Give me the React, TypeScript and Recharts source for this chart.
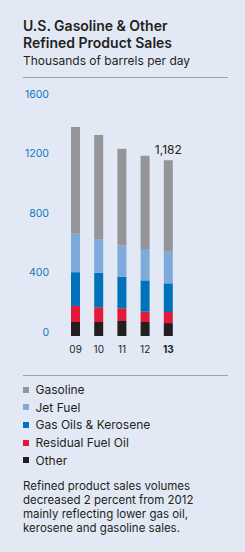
import React from 'react';
import { BarChart, Bar, XAxis, YAxis, LabelList } from 'recharts';

const years = ['09', '10', '11', '12', '13'];
const gasoline = [718, 700, 650, 626, 615];
const jetFuel = [258, 225, 209, 211, 213];
const gasOils = [227, 233, 213, 211, 193];
const residual = [108, 99, 85, 69, 74];
const other = [94, 94, 101, 94, 87];
const yTicks = [0, 400, 800, 1200, 1600];

const series = [
  { key: 'other', name: 'Other', color: '#231f20', values: other },
  { key: 'residual', name: 'Residual Fuel Oil', color: '#e31937', values: residual },
  { key: 'gasOils', name: 'Gas Oils & Kerosene', color: '#0072bc', values: gasOils },
  { key: 'jetFuel', name: 'Jet Fuel', color: '#7eaadb', values: jetFuel },
  { key: 'gasoline', name: 'Gasoline', color: '#939598', values: gasoline },
];

const FONT = 'Inter, "Open Sans", sans-serif';
const DARK = '#231f20';
const BLUE = '#0b78c2';

const chartData = years.map((year, i) => {
  const row: Record<string, string | number> = { year };
  let total = 0;
  series.forEach((s) => {
    row[s.key] = s.values[i];
    total += s.values[i];
  });
  row.total = total;
  return row;
});

const YTick = (props: any) => {
  const { x, y, payload } = props;
  return (
    <text x={x} y={y - 4} textAnchor="end" dominantBaseline="central" fontSize={10.5} fill={BLUE} fontFamily={FONT}>
      {payload.value}
    </text>
  );
};

const XTick = (props: any) => {
  const { x, y, payload } = props;
  const last = payload.value === years[years.length - 1];
  return (
    <text
      x={x}
      y={y + 13}
      textAnchor="middle"
      dominantBaseline="central"
      fontSize={10}
      fontWeight={last ? 700 : 400}
      fill={DARK}
      fontFamily={FONT}
    >
      {payload.value}
    </text>
  );
};

const TotalLabel = (props: any) => {
  const { x, y, width, index } = props;
  if (index !== years.length - 1) return null;
  const total = chartData[index].total as number;
  return (
    <text x={x + width / 2} y={y - 11} textAnchor="middle" dominantBaseline="central" fontSize={12} fill={DARK} fontFamily={FONT}>
      {total.toLocaleString('en-US')}
    </text>
  );
};

const legendOrder = [...series].reverse();

export default function App() {
  return (
    <div
      style={{
        position: 'fixed',
        top: 0,
        left: 0,
        width: 245,
        height: 552,
        background: '#e2e9f5',
        fontFamily: FONT,
        color: DARK,
        overflow: 'hidden',
      }}
    >
      <div style={{ position: 'absolute', left: 23, top: 16.5, fontSize: 14, fontWeight: 600, lineHeight: '17px' }}>
        U.S. Gasoline &amp; Other
      </div>
      <div style={{ position: 'absolute', left: 23, top: 33.8, fontSize: 14, fontWeight: 600, lineHeight: '17px' }}>
        Refined Product Sales
      </div>
      <div style={{ position: 'absolute', left: 23, top: 51.5, fontSize: 12, lineHeight: '17px' }}>
        Thousands of barrels per day
      </div>
      <div style={{ position: 'absolute', left: 23, top: 77, width: 205, height: 1, background: '#9ea3a9' }} />

      <div style={{ position: 'absolute', left: 0, top: 80 }}>
        <BarChart width={245} height={285} data={chartData} margin={{ top: 18, right: 65, bottom: 9, left: 0 }}>
          <YAxis
            type="number"
            domain={[0, 1600]}
            ticks={yTicks}
            width={64}
            axisLine={false}
            tickLine={false}
            tickSize={0}
            tickMargin={15}
            tick={<YTick />}
          />
          <XAxis
            dataKey="year"
            height={20}
            axisLine={false}
            tickLine={false}
            tickSize={0}
            tickMargin={0}
            interval={0}
            tick={<XTick />}
          />
          {series.map((s, i) => (
            <Bar key={s.key} dataKey={s.key} stackId="a" fill={s.color} barSize={9} isAnimationActive={false}>
              {i === series.length - 1 && <LabelList dataKey="total" content={<TotalLabel />} />}
            </Bar>
          ))}
        </BarChart>
      </div>

      <div style={{ position: 'absolute', left: 23, top: 375, width: 205, height: 1, background: '#9ea3a9' }} />
      <div style={{ position: 'absolute', left: 23, top: 381 }}>
        {legendOrder.map((s) => (
          <div key={s.key} style={{ display: 'flex', alignItems: 'center', height: 17.6, fontSize: 12 }}>
            <span style={{ display: 'inline-block', width: 6, height: 6, background: s.color, marginRight: 6.5 }} />
            <span>{s.name}</span>
          </div>
        ))}
      </div>
      <div style={{ position: 'absolute', left: 23, top: 479, width: 215, fontSize: 11.5, lineHeight: '14px' }}>
        Refined product sales volumes
        <br />
        decreased 2 percent from 2012
        <br />
        mainly reflecting lower gas oil,
        <br />
        kerosene and gasoline sales.
      </div>
    </div>
  );
}
